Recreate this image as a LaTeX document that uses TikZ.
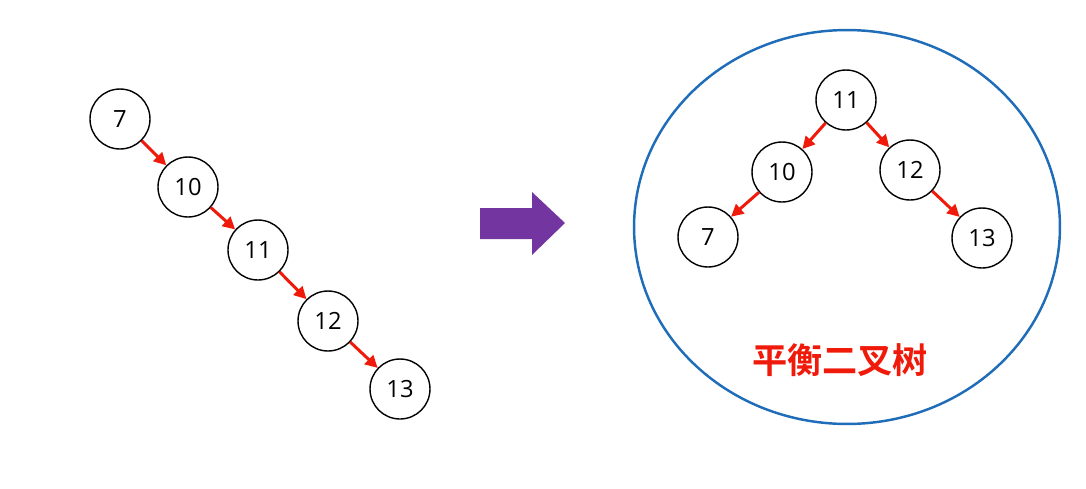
\documentclass[tikz,border=0pt]{standalone}
\usepackage{fontspec}
\setmainfont{Open Sans}
\newfontfamily\cjkbold[BoldFont={Noto Sans CJK SC Bold}]{Noto Sans CJK SC}
\usetikzlibrary{arrows.meta, positioning, shapes.geometric}
\definecolor{treered}{HTML}{F01A0A}
\definecolor{ringblue}{HTML}{1F6DB8}
\definecolor{arrowpurple}{HTML}{7336A1}

\begin{document}
\begin{tikzpicture}[
  x=0.02cm, y=-0.02cm,
  key/.style={circle, draw=black, line width=0.8pt, minimum size=1.2cm, inner sep=0pt, font=\fontsize{13.5}{15}\selectfont},
  link/.style={draw=treered, line width=1.7pt, -{Triangle[length=7pt, width=7pt]}}
]
\useasboundingbox (0,0) rectangle (1086,488);

% left: degenerate chain
\node[key] (l7)  at (120,119) {7};
\node[key] (l10) at (188,187) {10};
\node[key] (l11) at (258,250) {11};
\node[key] (l12) at (328,321) {12};
\node[key] (l13) at (400,389) {13};
\draw[link] (l7) -- (l10);
\draw[link] (l10) -- (l11);
\draw[link] (l11) -- (l12);
\draw[link] (l12) -- (l13);

% block arrow
\fill[arrowpurple] (480,208) -- (532,208) -- (532,192) -- (565,223) -- (532,255) -- (532,239) -- (480,239) -- cycle;

% right: balanced tree
\node[ellipse, draw=ringblue, line width=1.4pt, minimum width=8.52cm, minimum height=7.88cm] (ring) at (847,227) {};
\node[key] (r11) at (846,100) {11};
\node[key] (r10) at (782,172) {10};
\node[key] (r12) at (910,170) {12};
\node[key] (r7)  at (708,237) {7};
\node[key] (r13) at (982,238) {13};
\draw[link] (r11) -- (r10);
\draw[link] (r11) -- (r12);
\draw[link] (r10) -- (r7);
\draw[link] (r12) -- (r13);

\node[text=treered, font=\cjkbold\bfseries\fontsize{20}{24}\selectfont] (title) at (840,360) {平衡二叉树};
\end{tikzpicture}
\end{document}
